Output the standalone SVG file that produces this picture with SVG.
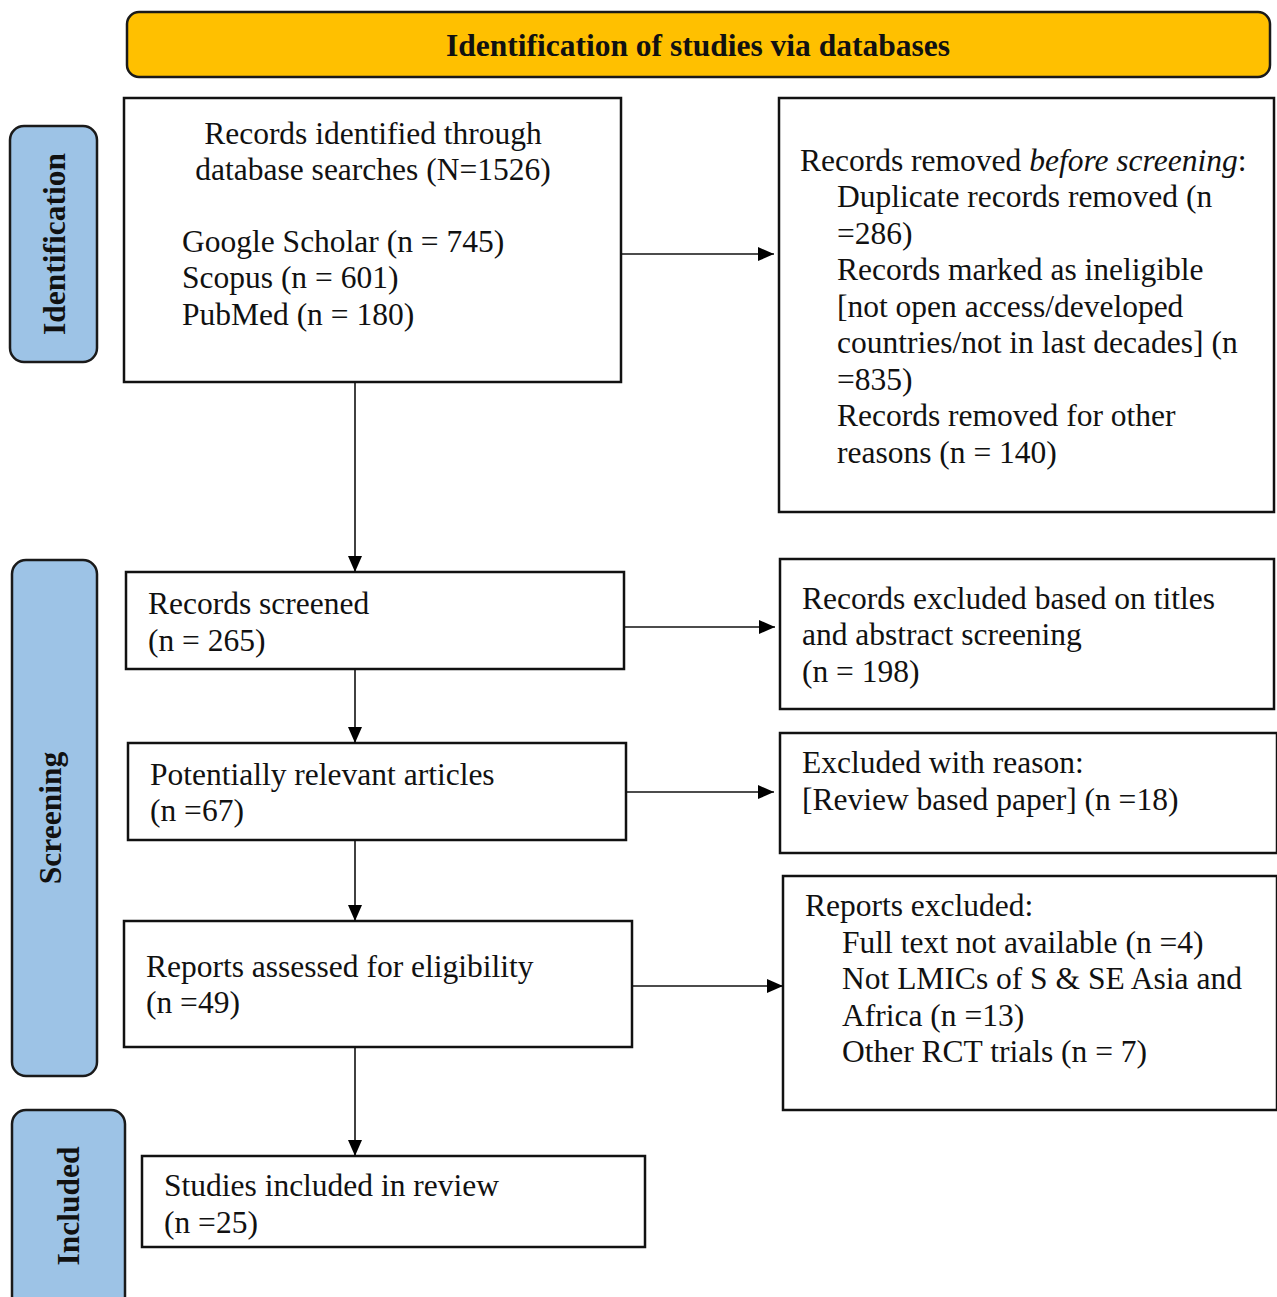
<svg xmlns="http://www.w3.org/2000/svg" width="1277" height="1297" viewBox="0 0 1277 1297">
<defs>
<marker id="ah" markerWidth="16" markerHeight="14" refX="16" refY="7" orient="auto" markerUnits="userSpaceOnUse">
<path d="M0,0 L16,7 L0,14 Z" fill="#000"/>
</marker>
<style>
.box{fill:#fff;stroke:#111;stroke-width:2.5}
.side{fill:#9DC3E6;stroke:#1a1a1a;stroke-width:2.5}
.banner{fill:#FFC000;stroke:#1a1a1a;stroke-width:2.5}
.t{font-family:"Liberation Serif","Times New Roman",serif;font-size:31.5px;fill:#111}
.b{font-family:"Liberation Serif","Times New Roman",serif;font-size:31.5px;font-weight:bold;fill:#111}
.c{fill:none;stroke:#111;stroke-width:1.6;marker-end:url(#ah)}
</style>
</defs>
<rect width="1277" height="1297" fill="#fff"/>
<g id="banner">
<rect class="banner" x="127" y="12" width="1143" height="65" rx="12"/>
<text class="b" x="698" y="56" text-anchor="middle">Identification of studies via databases</text>
</g>
<g id="side-identification">
<rect class="side" x="10" y="126" width="87" height="236" rx="14"/>
<text class="b" transform="translate(65,244) rotate(-90)" text-anchor="middle">Identification</text>
</g>
<g id="side-screening">
<rect class="side" x="12" y="560" width="85" height="516" rx="14"/>
<text class="b" transform="translate(61,818) rotate(-90)" text-anchor="middle">Screening</text>
</g>
<g id="side-included">
<rect class="side" x="12" y="1110" width="113" height="200" rx="14"/>
<text class="b" transform="translate(79,1206) rotate(-90)" text-anchor="middle">Included</text>
</g>
<g id="records-identified">
<rect class="box" x="124" y="98" width="497" height="284"/>
<text class="t" x="373" y="144" text-anchor="middle">Records identified through</text>
<text class="t" x="373" y="180" text-anchor="middle">database searches (N=1526)</text>
<text class="t" x="182" y="252">Google Scholar (n = 745)</text>
<text class="t" x="182" y="288">Scopus (n = 601)</text>
<text class="t" x="182" y="325">PubMed (n = 180)</text>
</g>
<g id="records-removed">
<rect class="box" x="779" y="98" width="495" height="414"/>
<text class="t" x="800" y="171">Records removed <tspan font-style="italic">before screening</tspan>:</text>
<text class="t" x="837" y="207">Duplicate records removed (n</text>
<text class="t" x="837" y="244">=286)</text>
<text class="t" x="837" y="280">Records marked as ineligible</text>
<text class="t" x="837" y="317">[not open access/developed</text>
<text class="t" x="837" y="353">countries/not in last decades] (n</text>
<text class="t" x="837" y="390">=835)</text>
<text class="t" x="837" y="426">Records removed for other</text>
<text class="t" x="837" y="463">reasons (n = 140)</text>
</g>
<g id="records-screened">
<rect class="box" x="126" y="572" width="498" height="97"/>
<text class="t" x="148" y="614">Records screened</text>
<text class="t" x="148" y="651">(n = 265)</text>
</g>
<g id="records-excluded">
<rect class="box" x="780" y="559" width="494" height="150"/>
<text class="t" x="802" y="609">Records excluded based on titles</text>
<text class="t" x="802" y="645">and abstract screening</text>
<text class="t" x="802" y="682">(n = 198)</text>
</g>
<g id="potentially-relevant">
<rect class="box" x="128" y="743" width="498" height="97"/>
<text class="t" x="150" y="785">Potentially relevant articles</text>
<text class="t" x="150" y="821">(n =67)</text>
</g>
<g id="excluded-reason">
<rect class="box" x="780" y="733" width="497" height="120"/>
<text class="t" x="802" y="773">Excluded with reason:</text>
<text class="t" x="802" y="810">[Review based paper] (n =18)</text>
</g>
<g id="reports-assessed">
<rect class="box" x="124" y="921" width="508" height="126"/>
<text class="t" x="146" y="977">Reports assessed for eligibility</text>
<text class="t" x="146" y="1013">(n =49)</text>
</g>
<g id="reports-excluded">
<rect class="box" x="783" y="876" width="494" height="234"/>
<text class="t" x="805" y="916">Reports excluded:</text>
<text class="t" x="842" y="953">Full text not available (n =4)</text>
<text class="t" x="842" y="989">Not LMICs of S &amp; SE Asia and</text>
<text class="t" x="842" y="1026">Africa (n =13)</text>
<text class="t" x="842" y="1062">Other RCT trials (n = 7)</text>
</g>
<g id="studies-included">
<rect class="box" x="142" y="1156" width="503" height="91"/>
<text class="t" x="164" y="1196">Studies included in review</text>
<text class="t" x="164" y="1233">(n =25)</text>
</g>
<g id="connectors">
<line class="c" x1="355" y1="382" x2="355" y2="572"/>
<line class="c" x1="355" y1="669" x2="355" y2="743"/>
<line class="c" x1="355" y1="840" x2="355" y2="921"/>
<line class="c" x1="355" y1="1047" x2="355" y2="1156"/>
<line class="c" x1="621" y1="254" x2="774" y2="254"/>
<line class="c" x1="624" y1="627" x2="775" y2="627"/>
<line class="c" x1="626" y1="792" x2="774" y2="792"/>
<line class="c" x1="632" y1="986" x2="783" y2="986"/>
</g>
</svg>
